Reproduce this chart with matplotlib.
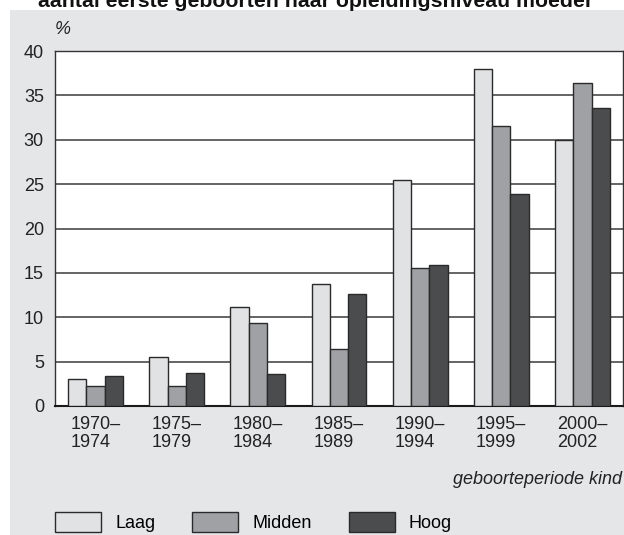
import numpy as np
import matplotlib
matplotlib.use("Agg")
import matplotlib.pyplot as plt
from matplotlib.patches import Rectangle

plt.rcParams["font.family"] = ["Liberation Sans", "DejaVu Sans"]

periodes = ["1970–\n1974", "1975–\n1979", "1980–\n1984", "1985–\n1989",
            "1990–\n1994", "1995–\n1999", "2000–\n2002"]
laag = [3.0, 5.5, 11.2, 13.7, 25.5, 38.0, 30.0]
midden = [2.3, 2.3, 9.4, 6.4, 15.5, 31.6, 36.4]
hoog = [3.4, 3.75, 3.6, 12.65, 15.85, 23.9, 33.55]
reeksen = ["Laag", "Midden", "Hoog"]
kleuren = ["#e1e2e4", "#a0a1a5", "#4b4c4e"]

W, H = 624, 535
fig = plt.figure(figsize=(W / 100, H / 100), dpi=100, facecolor="white")

# grijs paneel achter de grafiek
fig.add_artist(Rectangle((10 / W, 0), 1, 1 - 9.5 / H, transform=fig.transFigure,
                         facecolor="#e5e6e8", edgecolor="none", zorder=-1))

ax = fig.add_axes([55 / W, (H - 406) / H, 568 / W, 355 / H])
ax.set_facecolor("white")

x = np.arange(len(periodes))
w = 0.225
handles = []
for i, (vals, kleur) in enumerate(zip([laag, midden, hoog], kleuren)):
    b = ax.bar(x + (i - 1) * w, vals, width=w, color=kleur,
               edgecolor="#2a2a2a", linewidth=1.0, zorder=3, label=reeksen[i])
    handles.append(b)

ax.set_xlim(-0.5, len(periodes) - 0.5)
ax.set_ylim(0, 40)
ax.set_yticks(np.arange(0, 41, 5))
ax.set_xticks(x)
ax.set_xticklabels(periodes, fontsize=13, multialignment="left", color="#222222",
                   linespacing=1.1)
ax.tick_params(axis="y", length=0, pad=8, labelsize=13, labelcolor="#222222")
ax.tick_params(axis="x", length=0, pad=7)
for yv in range(5, 40, 5):
    ax.axhline(yv, color="#3a3a3a", linewidth=1.1, zorder=1)

for side in ["top", "right", "left"]:
    ax.spines[side].set_color("#333333")
    ax.spines[side].set_linewidth(1.0)
ax.spines["bottom"].set_color("#1a1a1a")
ax.spines["bottom"].set_linewidth(1.5)

fig.text(63 / W, 1 - 30 / H, "%", fontsize=13, style="italic",
         ha="center", va="center", color="#222222")
fig.text(316 / W, 1 - 7 / H, "aantal eerste geboorten naar opleidingsniveau moeder",
         fontsize=15.3, fontweight="bold", ha="center", va="baseline", color="#111111")
fig.text(622 / W, 1 - 484 / H, "geboorteperiode kind", fontsize=13, style="italic",
         ha="right", va="baseline", color="#222222")

fig.legend(handles=handles, labels=reeksen, loc="lower left",
           bbox_to_anchor=(55 / W, 3 / H), ncol=3, frameon=False, fontsize=13,
           handlelength=2.55, handleheight=1.27, handletextpad=0.78,
           columnspacing=2.05, borderpad=0, borderaxespad=0)

fig.savefig("out.png", dpi=100, facecolor=fig.get_facecolor())
